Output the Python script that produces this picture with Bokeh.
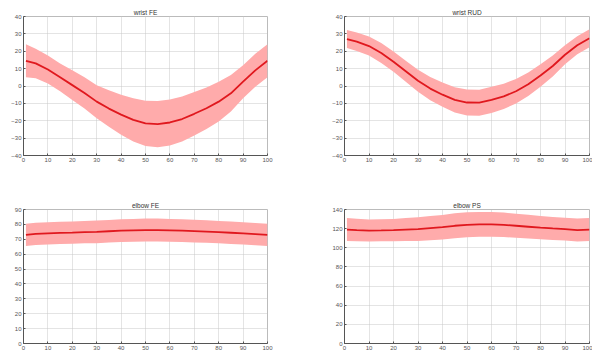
from bokeh.plotting import figure
from bokeh.layouts import gridplot
from bokeh.models import FixedTicker, Range1d
from bokeh.embed import file_html
from bokeh.resources import INLINE

# Data
x = [1, 5, 10, 15, 20, 25, 30, 35, 40, 45, 50, 55, 60, 65, 70, 75, 80, 85, 90, 95, 100]

wrist_fe_mean = [14.5, 13.0, 9.5, 5.0, 0.5, -4.0, -9.0, -13.0, -16.5, -19.5, -21.5, -22.0, -21.0, -19.0, -16.0, -12.8, -9.0, -4.2, 2.5, 9.0, 14.5]
wrist_fe_sd = [9.5, 8.5, 8.0, 8.0, 8.5, 9.0, 9.5, 10.5, 11.5, 12.5, 13.0, 13.3, 13.3, 13.0, 12.5, 12.0, 11.5, 10.5, 9.5, 9.5, 9.5]

wrist_rud_mean = [27.0, 25.5, 23.0, 19.0, 14.0, 8.5, 3.0, -1.5, -5.0, -8.0, -9.5, -9.6, -8.0, -6.0, -3.0, 1.0, 6.0, 11.5, 18.0, 23.5, 27.5]
wrist_rud_sd = [5.2, 5.3, 5.5, 5.7, 5.8, 6.0, 6.3, 6.7, 7.0, 7.3, 7.5, 7.5, 7.5, 7.3, 7.0, 6.7, 6.5, 6.0, 5.5, 5.2, 5.2]

elbow_fe_mean = [73.0, 73.6, 74.0, 74.3, 74.5, 74.8, 75.0, 75.4, 75.8, 76.0, 76.2, 76.2, 76.0, 75.8, 75.5, 75.2, 74.8, 74.4, 74.0, 73.5, 73.0]
elbow_fe_sd = [7.5, 7.5, 7.5, 7.5, 7.5, 7.5, 7.6, 7.6, 7.7, 7.7, 7.7, 7.7, 7.7, 7.7, 7.6, 7.6, 7.5, 7.5, 7.5, 7.5, 7.5]

elbow_ps_mean = [119.0, 118.5, 118.0, 118.2, 118.5, 119.0, 119.5, 120.5, 121.5, 123.0, 124.0, 124.5, 124.5, 124.0, 123.0, 122.0, 121.0, 120.2, 119.5, 118.5, 119.0]
elbow_ps_sd = [12.0, 11.8, 11.5, 11.5, 11.7, 12.0, 12.3, 12.6, 12.8, 13.0, 13.0, 13.0, 13.0, 12.8, 12.6, 12.4, 12.2, 12.0, 12.0, 12.0, 12.0]

titles = ["wrist FE", "wrist RUD", "elbow FE", "elbow PS"]
x_ticks = [0, 10, 20, 30, 40, 50, 60, 70, 80, 90, 100]
y_ticks_wrist = [-40, -30, -20, -10, 0, 10, 20, 30, 40]
y_ticks_elbow_fe = [0, 10, 20, 30, 40, 50, 60, 70, 80, 90]
y_ticks_elbow_ps = [0, 20, 40, 60, 80, 100, 120, 140]

LINE = "#e0181e"
BAND = "#ffabab"


def make(title, mean, sd, yticks, w, h, left, right, top, bottom):
    lo = [m - s for m, s in zip(mean, sd)]
    hi = [m + s for m, s in zip(mean, sd)]
    p = figure(width=w, height=h, output_backend="svg", toolbar_location=None,
               x_range=Range1d(0, 100), y_range=Range1d(yticks[0], yticks[-1]),
               min_border_left=left, min_border_right=right,
               min_border_top=top, min_border_bottom=bottom)
    p.title.text = title
    p.title.align = "center"
    p.title.text_font = "Liberation Sans"
    p.title.text_font_size = "6.5px"
    p.title.text_font_style = "normal"
    p.title.text_color = "#333333"
    p.title.standoff = 1
    p.title.offset = 0
    p.varea(x=x, y1=lo, y2=hi, fill_color=BAND, fill_alpha=1.0)
    p.line(x, mean, line_color=LINE, line_width=1.8)
    for ax in (p.xaxis, p.yaxis):
        ax.major_label_text_font = "Liberation Sans"
        ax.major_label_text_font_size = "6px"
        ax.major_label_text_color = "#555555"
        ax.axis_line_color = "#555555"
        ax.major_tick_line_color = "#555555"
        ax.major_tick_in = 2
        ax.major_tick_out = 0
        ax.minor_tick_line_color = None
        ax.major_label_standoff = 2
    p.xaxis.ticker = FixedTicker(ticks=x_ticks)
    p.yaxis.ticker = FixedTicker(ticks=yticks)
    p.grid.grid_line_color = "#c8c8c8"
    p.grid.grid_line_dash = "1 1"
    p.outline_line_color = "#bbbbbb"
    p.background_fill_color = "white"
    p.border_fill_color = "white"
    return p


p1 = make(titles[0], wrist_fe_mean, wrist_fe_sd, y_ticks_wrist, 299, 189, 23, 32, 16, 34)
p2 = make(titles[1], wrist_rud_mean, wrist_rud_sd, y_ticks_wrist, 293, 189, 45, 3, 16, 34)
p3 = make(titles[2], elbow_fe_mean, elbow_fe_sd, y_ticks_elbow_fe, 299, 164, 23, 32, 20, 10)
p4 = make(titles[3], elbow_ps_mean, elbow_ps_sd, y_ticks_elbow_ps, 293, 164, 45, 3, 20, 10)

grid = gridplot([[p1, p2], [p3, p4]], toolbar_location=None)

open("out.html", "w").write(file_html(grid, INLINE))
